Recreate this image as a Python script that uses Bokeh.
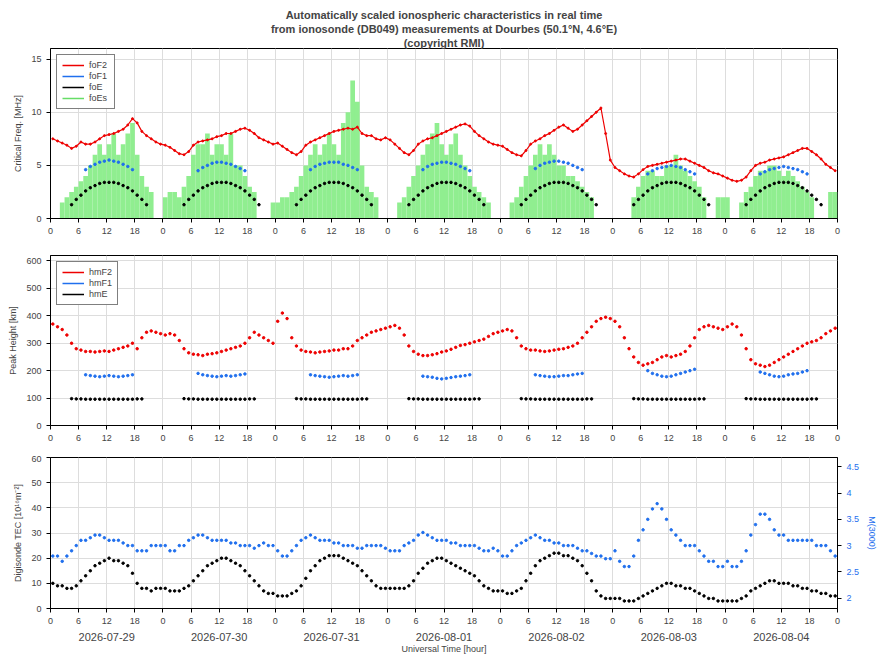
import numpy as np
from bokeh.plotting import figure
from bokeh.layouts import column
from bokeh.models import (FixedTicker, LinearAxis, Range1d, Title, Legend, LegendItem)
from bokeh.embed import file_html
from bokeh.resources import INLINE

N = np.nan
hours = list(range(168))
dates = ["2026-07-29", "2026-07-30", "2026-07-31", "2026-08-01", "2026-08-02", "2026-08-03", "2026-08-04"]

foF2 = [7.5,7.3,7.1,6.9,6.6,6.8,7.2,7.0,7.0,7.2,7.5,7.8,7.9,8.0,8.2,8.4,8.8,9.4,9.0,8.2,7.8,7.5,7.2,7.0,
        6.9,6.7,6.4,6.1,6.0,6.3,6.9,7.2,7.3,7.4,7.5,7.7,7.8,8.0,8.0,8.2,8.4,8.5,8.3,8.0,7.6,7.4,7.2,7.0,
        7.1,6.8,6.5,6.2,6.0,6.3,6.9,7.2,7.4,7.6,7.8,8.0,8.2,8.3,8.4,8.5,8.4,8.6,8.0,7.8,7.8,7.5,7.4,7.6,
        7.4,7.0,6.6,6.2,6.0,6.4,7.0,7.3,7.5,7.6,7.8,8.0,8.2,8.4,8.6,8.8,8.9,8.7,8.2,7.8,7.5,7.2,7.0,6.9,
        6.8,6.5,6.2,6.0,5.9,6.4,7.0,7.3,7.5,7.8,8.0,8.3,8.6,8.8,8.5,8.2,8.4,8.8,9.2,9.6,10.0,10.4,8.0,5.5,
        4.8,4.5,4.2,4.0,3.9,4.2,4.6,4.9,5.0,5.1,5.2,5.3,5.4,5.5,5.6,5.6,5.4,5.2,5.0,4.8,4.5,4.3,4.2,4.0,
        3.8,3.6,3.5,3.6,3.9,4.5,5.0,5.2,5.3,5.5,5.6,5.7,5.8,6.0,6.2,6.4,6.6,6.6,6.3,6.0,5.6,5.1,4.8,4.5]

# foF1 for hours 7..17 of each day
foF1_day = [[4.6,4.9,5.1,5.3,5.4,5.5,5.4,5.3,5.1,4.9,4.6],
            [4.5,4.8,5.0,5.2,5.3,5.3,5.2,5.1,4.9,4.7,4.5],
            [4.6,4.9,5.1,5.2,5.3,5.3,5.3,5.1,5.0,4.8,4.6],
            [4.6,4.9,5.1,5.2,5.3,5.3,5.2,5.1,4.9,4.7,4.5],
            [4.7,5.0,5.2,5.3,5.4,5.4,5.3,5.2,5.0,4.8,4.6],
            [4.2,4.5,4.7,4.8,4.9,5.0,4.9,4.8,4.6,4.4,4.2],
            [4.2,4.4,4.6,4.7,4.8,4.9,4.8,4.7,4.6,4.4,4.2]]
# foE for hours 4..20
foE_day = [1.3,1.8,2.2,2.6,2.9,3.1,3.3,3.4,3.4,3.4,3.3,3.1,2.9,2.6,2.2,1.8,1.3]

foEs = [N,N,1.5,2,2.5,3,3.5,4,5,6,7,6,7,8,6,7,8,9,6,4,3,2.5,N,N,
        2,2.5,2.5,2,3,4,6,7,7,8,6,7,7,6,8,5,5,4,3,2.5,N,N,N,1.5,
        1.5,2,2,2.5,3,4,5,6,7,6,7,8,7,6,9,10,13,11,5,3,2.5,2,N,N,
        N,N,1.5,2,3,4,5,6,7,8,9,7,6,7,8,6,5,4,3,2.5,2,1.5,N,N,
        N,N,1.5,2,3,4,5,6,7,6,7,6,5,5,4,4,3.5,3,2.5,2,N,N,N,N,
        N,N,N,N,2,3,4,4.5,4.5,4,4,5,5,6,5,4.5,4,3.5,3,2,N,N,2,2,
        2,N,N,1.5,2.5,3,4,4.5,4.5,5,5,4.5,4,4.5,4,3.5,3,2.5,2,N,N,N,2.5,2.5]

hmF2 = [370,360,350,330,300,280,275,270,270,268,270,272,270,275,280,285,290,300,280,320,340,345,340,335,
        330,335,330,310,280,265,260,258,255,260,262,265,270,275,280,285,290,300,320,340,330,320,310,300,
        380,410,390,320,290,275,270,268,265,268,270,272,275,275,280,280,290,310,320,330,340,345,350,355,
        360,365,355,330,290,270,260,255,255,258,262,268,272,278,285,292,295,300,305,310,315,325,335,340,
        345,350,345,320,290,280,275,275,272,270,272,275,278,280,285,290,300,320,340,360,380,390,395,390,
        380,360,320,280,250,230,220,225,230,240,250,255,250,255,260,270,290,320,350,360,365,360,355,350,
        360,370,360,330,280,240,225,220,215,220,230,240,250,260,270,280,290,300,305,310,320,335,345,355]
# hmF1 for hours 7..17 of each day
hmF1_day = [[185,182,180,178,180,182,180,178,180,182,185],
            [190,185,182,180,178,180,182,180,182,185,188],
            [185,182,180,178,176,178,180,182,180,182,185],
            [180,178,176,172,170,172,175,178,180,182,185],
            [185,182,180,178,178,180,182,182,185,188,190],
            [200,190,185,180,178,180,185,190,195,200,205],
            [195,190,185,180,178,180,185,188,190,195,200]]
hmE_day = [98,97,97,96,96,96,96,96,96,96,96,96,96,96,97,97]  # hours 4..19

TEC = [10,9,9,8,8,9,11,13,15,17,18,19,20,19,19,18,17,14,10,8,8,7,8,8,
       8,7,7,7,8,9,11,13,15,17,18,19,20,20,19,18,17,15,13,11,9,7,6,6,
       5,5,5,6,7,9,12,15,17,19,20,21,21,21,20,19,18,17,15,13,11,9,8,8,
       8,8,8,8,9,11,14,16,18,19,20,20,19,18,17,16,15,14,13,11,9,8,7,7,
       7,6,6,7,8,11,14,17,19,20,21,22,22,21,21,20,19,17,14,11,7,5,4,4,
       4,4,3,3,3,4,5,6,7,8,9,10,10,9,9,8,8,7,6,5,4,4,3,3,
       3,3,3,4,5,7,8,9,10,11,11,10,10,10,9,9,8,8,7,7,6,6,5,5]
M3000 = [2.8,2.8,2.7,2.8,2.9,3.0,3.1,3.1,3.15,3.2,3.2,3.15,3.1,3.1,3.1,3.05,3.0,3.0,2.9,2.9,2.9,3.0,3.0,3.0,
         3.0,2.9,2.9,3.0,3.0,3.1,3.15,3.2,3.2,3.15,3.1,3.1,3.1,3.1,3.05,3.05,3.0,3.0,3.0,2.95,3.0,3.05,3.0,3.0,
         2.9,2.8,2.8,2.9,3.0,3.1,3.15,3.2,3.15,3.1,3.1,3.1,3.05,3.05,3.0,3.0,3.0,2.95,2.95,3.0,3.0,3.0,3.0,2.95,
         2.9,2.9,2.9,3.0,3.05,3.1,3.2,3.25,3.2,3.15,3.1,3.1,3.1,3.05,3.05,3.0,3.0,3.0,3.0,2.95,2.9,2.9,2.95,2.9,
         2.8,2.8,2.9,3.0,3.05,3.1,3.15,3.2,3.15,3.1,3.1,3.05,3.05,3.0,3.0,3.0,2.95,2.9,2.9,2.85,2.8,2.8,2.75,2.75,
         2.9,2.7,2.6,2.6,2.8,3.1,3.3,3.5,3.7,3.8,3.7,3.5,3.3,3.2,3.1,3.0,3.0,3.0,2.9,2.8,2.7,2.7,2.6,2.6,
         2.7,2.6,2.6,2.7,2.9,3.2,3.4,3.6,3.6,3.5,3.3,3.2,3.2,3.1,3.1,3.1,3.1,3.1,3.1,3.0,3.0,3.0,2.9,2.8]

def expand(day_lists, start):
    out = [N]*168
    for d, vals in enumerate(day_lists):
        for i, v in enumerate(vals):
            out[d*24+start+i] = v
    return out

foF1 = expand(foF1_day, 7)
foE = expand([foE_day]*7, 4)
hmF1 = expand(hmF1_day, 7)
hmE = expand([hmE_day]*7, 4)

FONT = "Liberation Sans"
RED, BLUE, BLACK, GREEN = "#ee0000", "#1f6fee", "#000000", "#90ee90"
ticks = list(range(0, 169, 6))
tick_labels = {t: str(t % 24) for t in ticks}

def style_axis(ax):
    ax.major_label_text_font = FONT
    ax.major_label_text_font_size = "9px"
    ax.axis_label_text_font = FONT
    ax.axis_label_text_font_size = "9px"
    ax.axis_label_text_font_style = "normal"
    ax.minor_tick_line_color = None
    ax.major_tick_in = 0
    ax.major_tick_out = 4

def make_fig(h, ymax, yticks, ylabel, top, bottom):
    p = figure(width=880, height=h, x_range=Range1d(0, 168), y_range=Range1d(0, ymax),
               output_backend="svg", toolbar_location=None,
               min_border_left=50, min_border_right=42, min_border_top=top, min_border_bottom=bottom)
    p.xaxis.ticker = FixedTicker(ticks=ticks)
    p.xaxis.major_label_overrides = tick_labels
    p.yaxis.ticker = FixedTicker(ticks=yticks)
    p.yaxis.axis_label = ylabel
    style_axis(p.xaxis[0])
    style_axis(p.yaxis[0])
    p.xgrid.grid_line_color = "#dddddd"
    p.ygrid.grid_line_color = "#dddddd"
    p.outline_line_color = "black"
    return p

def add_legend(p, entries):
    items = []
    for label, color in entries:
        r = p.line([N, N], [N, N], line_color=color, line_width=1.5)
        items.append(LegendItem(label=label, renderers=[r]))
    lg = Legend(items=items, location="top_left")
    lg.label_text_font = FONT
    lg.label_text_font_size = "9px"
    lg.glyph_height = 10
    lg.glyph_width = 22
    lg.label_height = 10
    lg.spacing = 1
    lg.padding = 5
    lg.margin = 6
    lg.border_line_color = "black"
    p.add_layout(lg)

# Panel 1
p1 = make_fig(248, 16, [0, 5, 10, 15], "Critical Freq. [MHz]", 48, 30)
for txt in ["(copyright RMI)", "from ionosonde (DB049) measurements at Dourbes (50.1°N, 4.6°E)",
            "Automatically scaled ionospheric characteristics in real time"]:
    p1.add_layout(Title(text=txt, align="center", text_font=FONT, text_font_size="11px",
                        text_font_style="bold", standoff=0), "above")
x = np.array(hours) + 0.5
p1.vbar(x=x, top=foEs, width=1.0, fill_color=GREEN, line_color=None)
p1.line(x, foF2, line_color=RED, line_width=1.2)
p1.scatter(x, foF2, size=2, color=RED)
p1.scatter(x, foF1, size=2.5, color=BLUE)
p1.scatter(x, foE, size=2.5, color=BLACK)
add_legend(p1, [("foF2", RED), ("foF1", BLUE), ("foE", BLACK), ("foEs", "#66dd66")])

# Panel 2
p2 = make_fig(207, 620, [0, 100, 200, 300, 400, 500, 600], "Peak Height [km]", 7, 30)
p2.scatter(x, hmF2, size=2.5, color=RED)
p2.scatter(x, hmF1, size=2.5, color=BLUE)
p2.scatter(x, hmE, size=2.5, color=BLACK)
add_legend(p2, [("hmF2", RED), ("hmF1", BLUE), ("hmE", BLACK)])

# Panel 3
p3 = make_fig(201, 60, [0, 10, 20, 30, 40, 50, 60], "Digisonde TEC [10¹⁶m⁻²]", 2, 41)
p3.extra_y_ranges = {"m": Range1d(1.8, 4.68)}
ax_r = LinearAxis(y_range_name="m", axis_label="M(3000)",
                  ticker=FixedTicker(ticks=[2.0, 2.5, 3.0, 3.5, 4.0, 4.5]))
style_axis(ax_r)
ax_r.major_label_text_color = BLUE
ax_r.axis_label_text_color = BLUE
p3.add_layout(ax_r, "right")
p3.scatter(x, TEC, size=2.5, color=BLACK)
p3.scatter(x, M3000, size=2.5, color=BLUE, y_range_name="m")
ax_d = LinearAxis(ticker=FixedTicker(ticks=[12 + 24*i for i in range(7)]),
                  major_label_overrides={12 + 24*i: d for i, d in enumerate(dates)},
                  axis_label="Universal Time [hour]")
ax_d.axis_line_color = None
ax_d.major_tick_line_color = None
ax_d.minor_tick_line_color = None
ax_d.major_label_standoff = 0
ax_d.major_label_text_font = FONT
ax_d.major_label_text_font_size = "11px"
ax_d.axis_label_text_font = FONT
ax_d.axis_label_text_font_size = "9px"
ax_d.axis_label_text_font_style = "normal"
ax_d.axis_label_standoff = 0
p3.add_layout(ax_d, "below")

layout = column(p1, p2, p3, spacing=0)
open("out.html", "w").write(file_html(layout, INLINE))
